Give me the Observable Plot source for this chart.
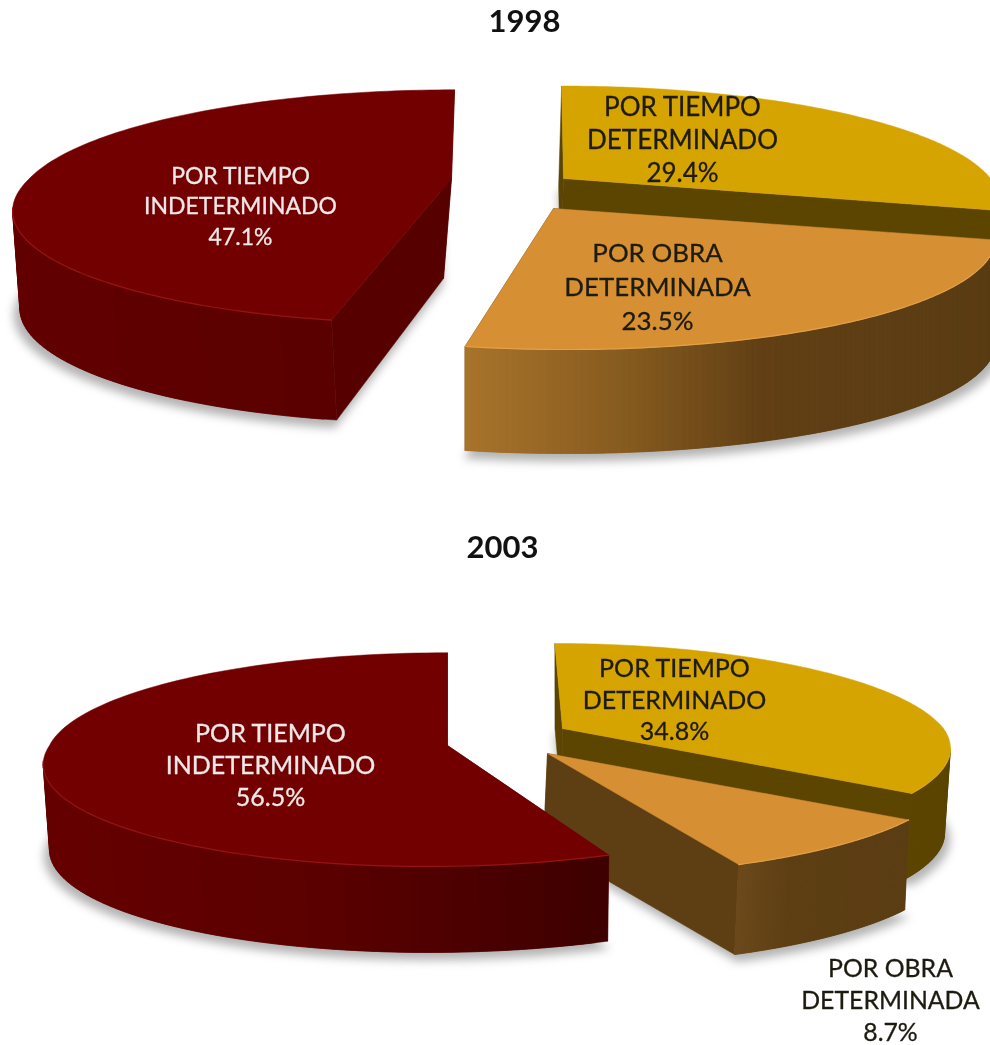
<!DOCTYPE html>
<html lang="es">
<head>
<meta charset="utf-8">
<script src="https://cdn.jsdelivr.net/npm/d3@7"></script>
<script src="https://cdn.jsdelivr.net/npm/@observablehq/plot@0.6"></script>
<style>
  html, body { margin: 0; padding: 0; background: #fff; overflow: hidden; }
  svg { display: block; }
  .shadow { filter: blur(5px); }
  .soft { filter: blur(0.45px); }
</style>
</head>
<body>
<div id="chart"></div>
<script>
// ---- data ----
const years = [1998, 2003];
const categories = ["POR TIEMPO\nDETERMINADO", "POR OBRA\nDETERMINADA", "POR TIEMPO\nINDETERMINADO"];
const shares1998 = [29.4, 23.5, 47.1];
const shares2003 = [34.8, 8.7, 56.5];

// ---- view of each exploded slice (not data) ----
const palette = {
  gold:   {top: "#d6a400", rim: "#d9a90c", cut: "#5b4500"},
  orange: {top: "#d69033", rim: "#e3a048", cut: "#5e3f14"},
  red:    {top: "#730000", rim: "#941414", cut: "#570000"}
};
const charts = [
  {
    year: years[0], shares: shares1998, titleAt: [524, 22],
    order: [0, 2, 1],
    slices: [
      {tone: "gold", lens: {rx: 427, ry: 111, k: 0.2}, cx: 563, cy: 178, skewB: 0.02, skewF: 0.02, depth: 100, bdx: -3, f: 1, bskew: 0,
       wall: [[0, "#5b4500"], [1, "#5b4500"]], label: [682, 140], size: 26, lead: 33, ink: "#1d1a10"},
      {tone: "orange", lens: {rx: 427, ry: 107.6, k: 0.237}, cx: 553, cy: 208, skewB: 0.09, skewF: 0.09, depth: 104, bdx: 0, f: 1, bskew: 0,
       wall: [[466, "#a8732a"], [620, "#875c20"], [760, "#623f15"], [990, "#5a3d14"]], label: [657, 287], size: 25.9, lead: 34, ink: "#1d1a10"},
      {tone: "red", lens: {rx: 422, ry: 110, k: 0.24}, cx: 451, cy: 178, skewB: -0.035, skewF: -0.14, depth: 100, bdx: -8, f: 0.97, bskew: 0.067,
       wall: [[13, "#620000"], [340, "#5a0000"]], label: [240, 206], size: 23, lead: 30.5, ink: "#efe8e8"}
    ]
  },
  {
    year: years[1], shares: shares2003, titleAt: [502, 548],
    order: [0, 1, 2],
    slices: [
      {tone: "gold", lens: {rx: 381, ry: 100.6, k: 0.183}, cx: 562, cy: 728, skewB: 0.09, skewF: 0.02, depth: 85, bdx: 0, f: 0.985, bskew: 0,
       wall: [[0, "#5b4500"], [1, "#5b4500"]], label: [674, 700], size: 25, lead: 31.5, ink: "#1d1a10"},
      {tone: "orange", lens: {rx: 402, ry: 106, k: 0.135}, cx: 547, cy: 753, skewB: 0.05, skewF: 0.08, depth: 90, bdx: -4, f: 1, bskew: 0,
       wall: [[735, "#6c4a1c"], [790, "#5e3f14"], [905, "#5c3e14"]], label: [890, 1000], size: 24.8, lead: 32, ink: "#1d1a10"},
      {tone: "red", lens: {rx: 398, ry: 105, k: 0.132}, cx: 447, cy: 745, skewB: 0, skewF: -0.17, depth: 86, bdx: 0, f: 0.985, bskew: 0.012,
       wall: [[42, "#650000"], [300, "#5c0000"], [430, "#500000"], [610, "#3d0000"]], label: [270, 765], size: 25, lead: 32, ink: "#efe8e8"}
    ]
  }
];

const deg = Math.PI / 180;

function buildSlice(chart, i) {
  const view = chart.slices[i];
  const tone = palette[view.tone];
  const {rx, ry, k} = view.lens;
  let a0 = 0;
  for (let j = 0; j < i; j++) a0 += chart.shares[j] * 3.6;
  const a1 = a0 + chart.shares[i] * 3.6;

  const topAt = (a) => {
    const u = Math.sin(a * deg), v = -Math.cos(a * deg), s = 1 / (1 - k * v);
    const dy = ry * v * s;
    return {x: view.cx + rx * u * s + (v < 0 ? view.skewB : view.skewF) * dy, y: view.cy + dy, v};
  };
  const apex = {x: view.cx, y: view.cy};
  const under = (p) => ({
    x: view.cx + view.bdx + (p.x - view.cx) * view.f + view.bskew * (p.y - view.cy),
    y: p.y + view.depth
  });

  const angles = d3.range(0, 121).map((t) => a0 + (a1 - a0) * t / 120);
  const arc = angles.map(topAt);
  const first = arc[0], last = arc[arc.length - 1];

  const solids = [];
  const add = (id, color, pts) => [...pts, pts[0]].forEach((p) => solids.push({id, color, x: p.x, y: p.y}));

  // the two cut faces
  add(`cutA${i}`, tone.cut, [apex, first, under(first), under(apex)]);
  add(`cutB${i}`, tone.cut, [apex, last, under(last), under(apex)]);

  // the round wall, in overlapping strips shaded along x
  const stops = view.wall;
  const shade = d3.scaleLinear().domain(stops.map((s) => s[0])).range(stops.map((s) => s[1])).clamp(true);
  const front = arc.filter((p) => p.v >= k);
  for (let t = 0; t < front.length - 1; t++) {
    const p = front[t], q = front[Math.min(t + 2, front.length - 1)];
    add(`wall${i}-${t}`, shade((p.x + front[t + 1].x) / 2), [p, q, under(q), under(p)]);
  }

  // the top face
  add(`top${i}`, tone.top, [apex, ...arc]);

  const rim = front.map((p) => ({x: p.x, y: p.y}));
  const ground = [apex, ...arc].map(under).map((p) => ({
    x: p.x + (p.x - view.cx) * 0.014,
    y: p.y + 6 + (p.y - view.cy - view.depth) * 0.014
  }));
  return {solids, rim, ground, tone};
}

const built = charts.map((chart) => chart.order.map((i) => buildSlice(chart, i)));
const shadowMarks = built.flat().map((s) =>
  Plot.line(s.ground, {x: "x", y: "y", fill: "#808080", fillOpacity: 0.6, stroke: "none", curve: "linear", className: "shadow"})
);
const sliceMarks = built.flat().flatMap((s) => [
  Plot.line(s.solids, {x: "x", y: "y", z: "id", fill: "color", stroke: "color", strokeWidth: 0.5, curve: "linear", className: "soft"}),
  Plot.line(s.rim, {x: "x", y: "y", stroke: s.tone.rim, strokeWidth: 1.2, curve: "linear", className: "soft"})
]);

const labelMarks = charts.flatMap((chart) => chart.slices.map((view, i) =>
  Plot.text([`${categories[i]}\n${d3.format(".1f")(chart.shares[i])}%`], {
    x: () => view.label[0],
    y: () => view.label[1] - 2,
    fill: view.ink,
    stroke: view.ink,
    strokeWidth: 0.3,
    fontSize: view.size,
    lineHeight: view.lead / view.size,
    textAnchor: "middle",
    className: "soft"
  })
));
const titles = charts.map((chart) => ({text: String(chart.year), x: chart.titleAt[0], y: chart.titleAt[1]}));

const plot = Plot.plot({
  width: 990,
  height: 1045,
  margin: 0,
  x: {domain: [0, 990], range: [0, 990], axis: null},
  y: {domain: [0, 1045], range: [0, 1045], axis: null},
  color: {type: "identity"},
  style: {background: "#fff", fontFamily: "Lato, 'Open Sans', sans-serif"},
  marks: [
    ...shadowMarks,
    ...sliceMarks,
    ...labelMarks,
    Plot.text(titles, {x: "x", y: "y", text: "text", fill: "#111", fontSize: 31, fontWeight: 700, textAnchor: "middle", className: "soft"})
  ]
});
document.getElementById("chart").append(plot);
</script>
</body>
</html>
